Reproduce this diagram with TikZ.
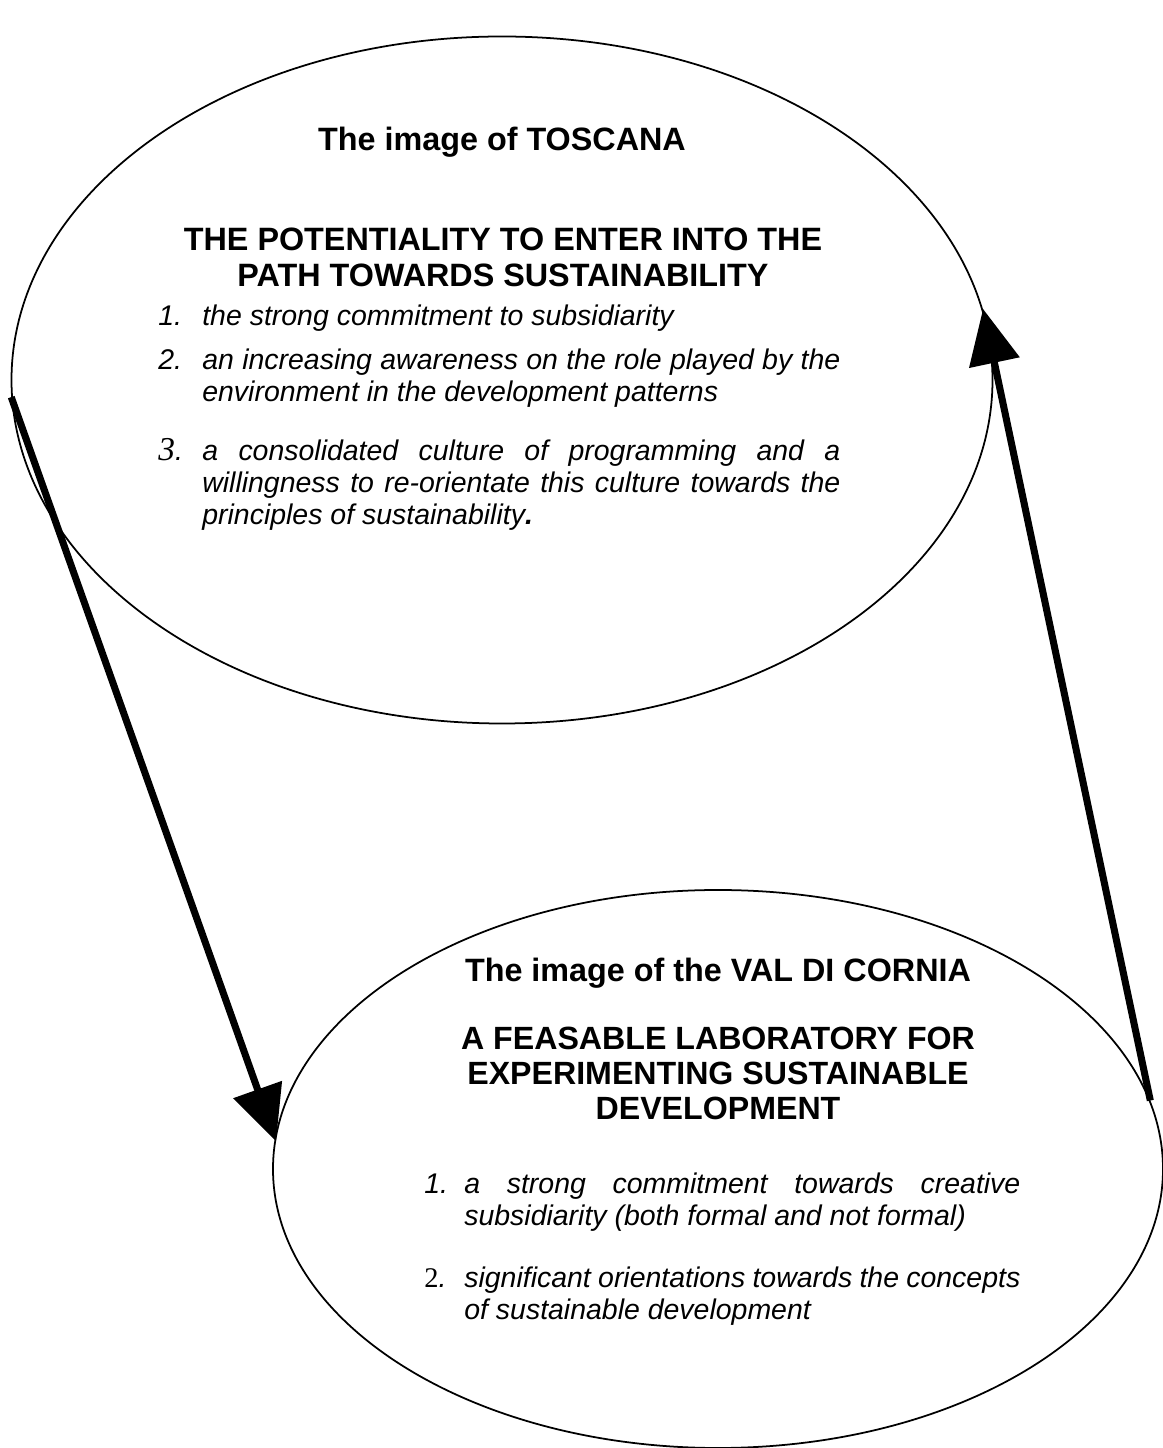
\documentclass[tikz,border=0pt]{standalone}
\usepackage{fontspec}
\setmainfont{Liberation Sans}
\newfontfamily\numfont{Liberation Serif}
\usetikzlibrary{arrows.meta,shapes.geometric}

\tikzset{
  oval/.style={draw, ellipse, line width=1pt, inner sep=0pt},
  headline/.style={font=\fontsize{18.4}{21}\selectfont\bfseries, align=center, anchor=base},
  itemtext/.style={text width=#1, align=justify, anchor=base west, inner sep=0pt,
    font=\fontsize{16.2}{18.2}\selectfont\itshape},
  bigarrow/.style={line width=4pt, -{Triangle[length=1.1cm, width=1cm]}, shorten >=-2pt}
}
\newcommand{\numitem}[3]{\hyphenpenalty=10000\exhyphenpenalty=10000\noindent\hangindent=#1\hangafter=1\makebox[#1][l]{#2}#3\par}

\begin{document}
\begin{tikzpicture}[x=0.02cm, y=0.02cm]
  \useasboundingbox (0,0) rectangle (1163,1448);

  % the two images
  \node[oval, minimum width=981*0.02cm, minimum height=687*0.02cm] (toscana) at (502,1068) {};
  \node[oval, minimum width=890*0.02cm, minimum height=558*0.02cm] (cornia) at (718,279) {};

  % Toscana
  \node[headline] (tostitle) at (502,1297) {The image of TOSCANA};
  \node[headline] (tospath) at (503,1161) {THE POTENTIALITY TO ENTER INTO THE\\PATH TOWARDS SUSTAINABILITY};
  \node[itemtext=682*0.02cm] (tosone) at (158,1122) {\numitem{0.88cm}{1.}{the strong commitment to subsidiarity}};
  \node[itemtext=682*0.02cm] (tostwo) at (158,1078) {\numitem{0.88cm}{2.}{an increasing awareness on the role played by the environment in the development patterns}};
  \node[itemtext=682*0.02cm] (tosthree) at (158,987) {\numitem{0.88cm}{{\numfont\fontsize{19}{18}\selectfont 3}.}{a consolidated culture of programming and a willingness to re-orientate this culture towards the principles of sustainability\textbf{.}}};

  % Val di Cornia
  \node[headline] (vdctitle) at (718,466) {The image of the VAL DI CORNIA};
  \node[headline, font=\fontsize{18.3}{20}\selectfont\bfseries] (vdclab) at (718,328) {A FEASABLE LABORATORY FOR\\EXPERIMENTING SUSTAINABLE\\DEVELOPMENT};
  \node[itemtext=596*0.02cm] (vdcone) at (424,254) {\numitem{0.8cm}{1.}{a strong commitment towards creative subsidiarity (both formal and not formal)}};
  \node[itemtext=596*0.02cm] (vdctwo) at (424,160) {\numitem{0.8cm}{{\numfont\upshape 2}.}{significant orientations towards the concepts of sustainable development}};

  % connectors
  \draw[bigarrow] (toscana.182) -- (cornia.176);
  \draw[bigarrow] (cornia.9) -- (toscana.8);
\end{tikzpicture}
\end{document}
